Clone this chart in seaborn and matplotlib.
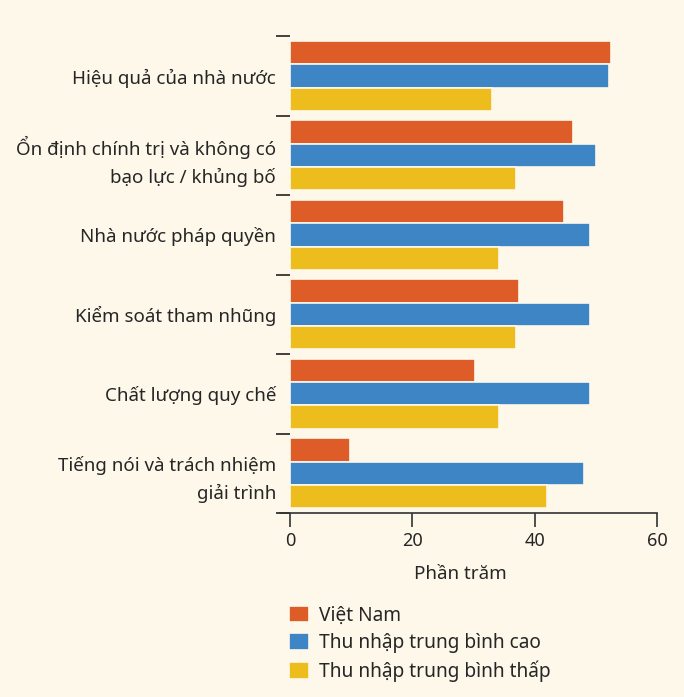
import numpy as np
import pandas as pd
import matplotlib
matplotlib.use('Agg')
import matplotlib.pyplot as plt
import seaborn as sns

# data
categories = ['Hiệu quả của nhà nước',
              'Ổn định chính trị và không có\nbạo lực / khủng bố',
              'Nhà nước pháp quyền',
              'Kiểm soát tham nhũng',
              'Chất lượng quy chế',
              'Tiếng nói và trách nhiệm\ngiải trình']
series = ['Việt Nam', 'Thu nhập trung bình cao', 'Thu nhập trung bình thấp']
viet_nam = [52.5, 46.2, 44.8, 37.5, 30.3, 9.8]
tn_cao = [52.1, 50.0, 49.0, 49.0, 49.0, 48.0]
tn_thap = [33.1, 37.0, 34.1, 37.0, 34.1, 42.0]
colors = ['#DD5C27', '#3E85C5', '#EDBC1D']
bg = '#FEF8EA'

df = pd.DataFrame({
    'cat': categories * 3,
    'series': [s for s in series for _ in categories],
    'val': viet_nam + tn_cao + tn_thap,
})

sns.set_style('ticks')
plt.rcParams['font.family'] = ['Noto Sans', 'DejaVu Sans']

fig = plt.figure(figsize=(6.84, 6.97), dpi=100, facecolor=bg)
ax = fig.add_axes([0.424, 0.264, 0.5365, 0.684], facecolor=bg)

sns.barplot(data=df, y='cat', x='val', hue='series', order=categories,
            hue_order=series, palette=colors, orient='h', width=0.88,
            edgecolor=bg, linewidth=1.2, saturation=1, ax=ax)

ax.set_xlim(0, 60)
ax.set_ylim(5.5, -0.5)
ax.set_xticks([0, 20, 40, 60])
ax.tick_params(axis='x', length=10, width=1.2, color='#333333', labelsize=13, pad=4)
ax.tick_params(axis='y', which='major', length=0, labelsize=13.5, pad=10)
for t in ax.get_yticklabels():
    t.set_linespacing(1.55)
ax.set_yticks(np.arange(-0.5, 6, 1), minor=True)
ax.tick_params(axis='y', which='minor', length=10, width=1.2, color='#222222')
for s in ['top', 'right', 'left']:
    ax.spines[s].set_visible(False)
ax.spines['bottom'].set_linewidth(1.2)
ax.spines['bottom'].set_color('#333333')
ax.spines['bottom'].set_bounds(-1.6, 60)
ax.set_ylabel('')
ax.set_xlabel('Phần trăm', fontsize=13.5)
ax.xaxis.set_label_coords(0.465, -0.11)

handles, labels = ax.get_legend_handles_labels()
ax.get_legend().remove()
fig.legend(handles, labels, loc='upper left', bbox_to_anchor=(0.403, 0.15),
           frameon=False, fontsize=13.75, handlelength=1.05, handleheight=0.95,
           handletextpad=0.5, labelspacing=0.38, borderpad=0.2)

fig.savefig('out.png', dpi=100, facecolor=bg)
